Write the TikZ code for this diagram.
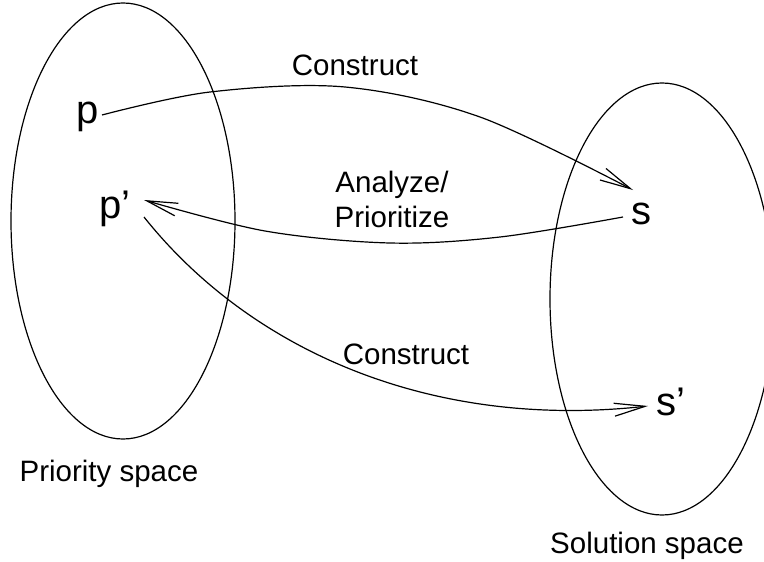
\documentclass[tikz,border=0pt]{standalone}
\usepackage{fontspec}
\setmainfont{Liberation Sans}
\usetikzlibrary{arrows.meta}
\begin{document}
\begin{tikzpicture}[x=1pt,y=-1pt,
  line width=1.2pt,
  lbl/.style={font=\fontsize{29.5}{34}\selectfont, anchor=base, inner sep=0pt},
  big/.style={font=\fontsize{40}{46}\selectfont, anchor=base, inner sep=0pt},
  arr/.style={-{Straight Barb[length=31pt,width=13pt]}},
  space/.style={draw}]
\clip (0,0) rectangle (764,562);
\fill[white] (0,0) rectangle (764,562);
% spaces
\coordinate (lc) at (123,221);
\coordinate (rc) at (662,299);
\draw[space] (lc) ellipse [x radius=112, y radius=218];
\draw[space] (rc) ellipse [x radius=112, y radius=216];
% point labels
\node[big] (p)  at (88,123) {p};
\node[big] (pp) at (115,218) {p’};
\node[big] (s)  at (641.5,224) {s};
\node[big] (ss) at (671,415) {s’};
% text labels
\node[lbl] (c1) at (355,75) {Construct};
\node[lbl] (a1) at (392,192) {Analyze/};
\node[lbl] (a2) at (392,227) {Prioritize};
\node[lbl] (c2) at (406,364) {Construct};
\node[lbl] (ps) at (109,481) {Priority space};
\node[lbl] (so) at (647,553) {Solution space};
% connector ends
\coordinate (p-out) at (102,115);
\coordinate (s-in) at (633,190);
\coordinate (s-out) at (623,217);
\coordinate (pp-in) at (144,200);
\coordinate (pp-out) at (144,217);
\coordinate (ss-in) at (648,406);
% connectors
\draw[arr] plot[smooth, tension=0.55] coordinates {(p-out) (210,92) (345,87) (480,117) (s-in)};
\draw[arr] plot[smooth, tension=0.55] coordinates {(s-out) (500,237) (390,243) (265,231) (pp-in)};
\draw[arr] (pp-out) .. controls (250,350) and (430,430) .. (ss-in);
\end{tikzpicture}
\end{document}
